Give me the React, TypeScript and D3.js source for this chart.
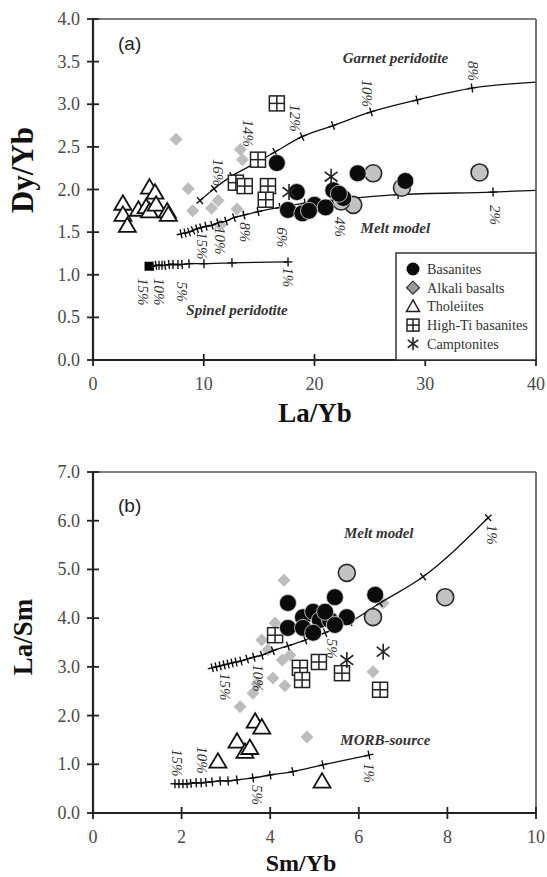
import React from "react";
import * as d3 from "d3";

// ---------- Panel (a): La/Yb vs Dy/Yb ----------
const xTicksA = [0, 10, 20, 30, 40];
const yTicksA = [0, 0.5, 1.0, 1.5, 2.0, 2.5, 3.0, 3.5, 4.0];

const garnetModel: [number, number][] = [
  [9.66, 1.87], [10.93, 2.01], [12.55, 2.16], [14.54, 2.3], [16.43, 2.44],
  [18.87, 2.62], [21.67, 2.75], [25.1, 2.91], [29.26, 3.05], [34.22, 3.19],
];
const garnetEnd: [number, number] = [40, 3.26];

const meltModelA: [number, number][] = [
  [7.95, 1.48], [8.31, 1.49], [8.67, 1.5], [9.03, 1.52], [9.39, 1.54], [9.75, 1.55],
  [10.2, 1.57], [10.74, 1.58], [11.29, 1.61], [12.01, 1.63], [12.73, 1.67], [13.63, 1.7],
  [14.9, 1.74], [16.88, 1.79], [19.14, 1.84], [22.03, 1.88], [27.54, 1.94], [36.12, 1.97],
];
const meltEndA: [number, number] = [40, 1.99];

const spinelModel: [number, number][] = [
  [5.06, 1.1], [5.42, 1.1], [5.69, 1.11], [5.96, 1.11], [6.23, 1.11], [6.5, 1.11],
  [6.86, 1.12], [7.22, 1.12], [7.67, 1.12], [8.04, 1.12], [8.67, 1.13], [10.02, 1.13],
  [12.55, 1.14], [17.61, 1.15],
];

const basanitesA: [number, number][] = [
  [16.6, 2.31], [18.4, 1.97], [17.6, 1.76], [18.9, 1.72], [20.0, 1.82], [21.0, 1.79],
  [21.7, 1.99], [22.6, 1.9], [23.9, 2.19], [28.2, 2.1], [19.5, 1.75], [22.2, 1.95],
];
const grayCirclesA: [number, number][] = [
  [25.3, 2.19], [34.9, 2.2], [27.9, 2.02], [23.5, 1.82], [22.4, 1.86],
];
const alkaliA: [number, number][] = [
  [7.5, 2.59], [8.6, 2.01], [9.0, 1.75], [10.7, 1.78], [11.3, 1.87], [13.3, 2.47],
  [13.5, 2.35], [13.0, 1.77], [11.5, 1.58],
];
const tholeiitesA: [number, number][] = [
  [2.7, 1.83], [2.7, 1.7], [3.1, 1.57], [5.1, 2.02], [5.6, 1.96], [4.1, 1.76],
  [4.8, 1.79], [5.1, 1.74], [5.7, 1.82], [6.7, 1.74], [6.8, 1.7],
];
const highTiA: [number, number][] = [
  [16.6, 3.01], [14.9, 2.35], [12.9, 2.08], [13.7, 2.04], [15.8, 2.04], [15.6, 1.88],
];
const camptonitesA: [number, number][] = [[21.5, 2.15], [17.7, 1.97]];

const pctLabelsA: [string, number, number][] = [
  ["16%", 11.29, 2.2], ["14%", 14.0, 2.66], ["12%", 18.24, 2.84], ["10%", 24.74, 3.13], ["8%", 34.31, 3.39],
  ["15%", 9.84, 1.34], ["10%", 11.47, 1.4], ["8%", 13.72, 1.5], ["6%", 17.07, 1.44], ["4%", 22.3, 1.56], ["2%", 36.3, 1.7],
  ["15%", 4.51, 0.8], ["10%", 5.96, 0.8], ["5%", 8.04, 0.8], ["1%", 17.6, 0.97],
];

// ---------- Panel (b): Sm/Yb vs La/Sm ----------
const xTicksB = [0, 2, 4, 6, 8, 10];
const yTicksB = [0, 1, 2, 3, 4, 5, 6, 7];

const meltModelB: [number, number][] = [
  [2.69, 2.98], [2.78, 3.0], [2.87, 3.02], [2.96, 3.04], [3.05, 3.06], [3.14, 3.08],
  [3.23, 3.1], [3.34, 3.12], [3.48, 3.16], [3.63, 3.2], [3.81, 3.24], [4.06, 3.33],
  [4.4, 3.43], [4.79, 3.55], [5.24, 3.7], [5.8, 3.92], [6.48, 4.31], [7.45, 4.85], [8.92, 6.06],
];
const morbModel: [number, number][] = [
  [1.85, 0.6], [1.94, 0.6], [2.03, 0.6], [2.12, 0.6], [2.21, 0.61], [2.33, 0.62],
  [2.44, 0.62], [2.55, 0.63], [2.69, 0.64], [2.87, 0.66], [3.05, 0.66], [3.25, 0.68],
  [3.61, 0.72], [4.0, 0.78], [4.51, 0.85], [5.19, 0.99], [6.23, 1.19],
];

const basanitesB: [number, number][] = [
  [4.4, 4.31], [5.46, 4.43], [6.37, 4.48], [4.74, 4.02], [4.97, 4.13], [5.12, 3.96],
  [5.35, 3.96], [5.73, 4.02], [4.4, 3.8], [4.74, 3.8], [4.97, 3.7], [5.24, 4.13], [5.46, 3.86],
];
const grayCirclesB: [number, number][] = [[5.73, 4.93], [7.95, 4.43], [6.32, 4.02]];
const alkaliB: [number, number][] = [
  [4.31, 4.78], [4.11, 3.9], [3.81, 3.55], [3.95, 3.35], [4.45, 3.24], [4.27, 3.14],
  [4.06, 2.77], [4.33, 2.61], [3.61, 2.46], [3.7, 2.65], [3.32, 2.18], [6.32, 2.9],
  [4.83, 1.56], [6.55, 4.31],
];
const tholeiitesB: [number, number][] = [
  [2.82, 1.05], [3.25, 1.46], [3.43, 1.25], [3.54, 1.33], [3.66, 1.87], [3.81, 1.75], [5.17, 0.64],
];
const highTiB: [number, number][] = [
  [4.11, 3.65], [4.67, 2.98], [4.72, 2.73], [5.1, 3.1], [5.62, 2.87], [6.48, 2.53],
];
const camptonitesB: [number, number][] = [[5.73, 3.14], [6.55, 3.31]];

const pctLabelsB: [string, number, number][] = [
  ["15%", 2.98, 2.59], ["10%", 3.72, 2.77], ["5%", 5.4, 3.37], ["1%", 9.0, 5.71],
  ["15%", 1.9, 1.03], ["10%", 2.46, 1.09], ["5%", 3.7, 0.37], ["1%", 6.23, 0.82],
];

const legendItems = ["Basanites", "Alkali basalts", "Tholeiites", "High-Ti basanites", "Camptonites"];

// ---------- styles ----------
const SERIF = "'Liberation Serif', 'Times New Roman', serif";
const SANS = "'Liberation Sans', Arial, sans-serif";
const DIAMOND_FILL = "#bdbdbd";
const GRAY_FILL = "#c2c2c2";

type Scale = d3.ScaleLinear<number, number>;

function Circle({ x, y, r = 8.5, gray = false }: { x: number; y: number; r?: number; gray?: boolean }) {
  return gray ? (
    <circle cx={x} cy={y} r={r} fill={GRAY_FILL} stroke="#2a2a2a" strokeWidth={1.6} />
  ) : (
    <circle cx={x} cy={y} r={r} fill="#0b0b0b" stroke="#e0e0e0" strokeWidth={0.8} />
  );
}
function Diamond({ x, y, s = 6.5 }: { x: number; y: number; s?: number }) {
  return <path d={`M${x},${y - s}L${x + s},${y}L${x},${y + s}L${x - s},${y}Z`} fill={DIAMOND_FILL} />;
}
function Triangle({ x, y, s = 8.5 }: { x: number; y: number; s?: number }) {
  const h = s * 1.7;
  return (
    <path
      d={`M${x},${y - h * 0.6}L${x + s},${y + h * 0.4}L${x - s},${y + h * 0.4}Z`}
      fill="#fff"
      stroke="#111"
      strokeWidth={1.8}
    />
  );
}
function CrossSquare({ x, y, s = 7.5 }: { x: number; y: number; s?: number }) {
  return (
    <g stroke="#222" strokeWidth={1.5} fill="#fff">
      <rect x={x - s} y={y - s} width={2 * s} height={2 * s} />
      <line x1={x} x2={x} y1={y - s} y2={y + s} />
      <line x1={x - s} x2={x + s} y1={y} y2={y} />
    </g>
  );
}
function Asterisk({ x, y, s = 8 }: { x: number; y: number; s?: number }) {
  const dx = s * 0.8, dy = s * 0.6;
  return (
    <g stroke="#222" strokeWidth={1.6}>
      <line x1={x} x2={x} y1={y - s} y2={y + s} />
      <line x1={x - dx} x2={x + dx} y1={y - dy} y2={y + dy} />
      <line x1={x - dx} x2={x + dx} y1={y + dy} y2={y - dy} />
    </g>
  );
}

function ModelLine({ pts, end, x, y, startSquare = false }: { pts: [number, number][]; end?: [number, number]; x: Scale; y: Scale; startSquare?: boolean }) {
  const all = end ? [...pts, end] : pts;
  const line = d3.line<[number, number]>().x((d) => x(d[0])).y((d) => y(d[1])).curve(d3.curveMonotoneX);
  const px = all.map((d) => [x(d[0]), y(d[1])]);
  return (
    <g>
      <path d={line(all) || ""} fill="none" stroke="#111" strokeWidth={1.3} />
      {pts.map((d, i) => {
        const a = px[Math.max(0, i - 1)];
        const b = px[Math.min(px.length - 1, i + 1)];
        const ang = (Math.atan2(b[1] - a[1], b[0] - a[0]) * 180) / Math.PI;
        const cx = x(d[0]), cy = y(d[1]);
        if (startSquare && i === 0) {
          return <rect key={i} x={cx - 4.5} y={cy - 4.5} width={9} height={9} fill="#000" />;
        }
        return (
          <g key={i} transform={`translate(${cx},${cy}) rotate(${ang})`} stroke="#111" strokeWidth={1.4}>
            <line x1={-4.5} x2={4.5} y1={0} y2={0} />
            <line x1={0} x2={0} y1={-4.5} y2={4.5} />
          </g>
        );
      })}
    </g>
  );
}

function PctLabels({ labels, x, y }: { labels: [string, number, number][]; x: Scale; y: Scale }) {
  return (
    <g fontFamily={SERIF} fontStyle="italic" fontSize={15} fill="#333">
      {labels.map(([t, a, b], i) => (
        <text key={i} transform={`translate(${x(a)},${y(b)}) rotate(90)`} textAnchor="middle" dominantBaseline="central">
          {t}
        </text>
      ))}
    </g>
  );
}

function Axes({ x, y, xTicks, yTicks, fmtY, fmtX }: { x: Scale; y: Scale; xTicks: number[]; yTicks: number[]; fmtY: (n: number) => string; fmtX: (n: number) => string }) {
  const [x0, x1] = x.range();
  const [y0, y1] = y.range();
  return (
    <g>
      <line x1={x0} x2={x1} y1={y1} y2={y1} stroke="#555" strokeWidth={1.6} />
      <line x1={x1} x2={x1} y1={y1} y2={y0} stroke="#555" strokeWidth={1.6} />
      <line x1={x0} x2={x1} y1={y0} y2={y0} stroke="#222" strokeWidth={2.2} />
      <line x1={x0} x2={x0} y1={y0} y2={y1} stroke="#222" strokeWidth={2.2} />
      {yTicks.map((t) => (
        <g key={"y" + t}>
          <line x1={x0 - 6} x2={x0 + 6} y1={y(t)} y2={y(t)} stroke="#222" strokeWidth={1.8} />
          <text x={x0 - 13} y={y(t)} textAnchor="end" dominantBaseline="central" fontFamily={SERIF} fontSize={18} fill="#4a4a4a">
            {fmtY(t)}
          </text>
        </g>
      ))}
      {xTicks.map((t) => (
        <g key={"x" + t}>
          <line x1={x(t)} x2={x(t)} y1={y0 - 6} y2={y0 + 6} stroke="#222" strokeWidth={1.8} />
          <text x={x(t)} y={y0 + 30} textAnchor="middle" fontFamily={SERIF} fontSize={18} fill="#4a4a4a">
            {fmtX(t)}
          </text>
        </g>
      ))}
    </g>
  );
}

function Points({ x, y, tholeiites, highTi, gray, basanites, camptonites }: any) {
  return (
    <g>
      {tholeiites.map((d: number[], i: number) => <Triangle key={"t" + i} x={x(d[0])} y={y(d[1])} />)}
      {highTi.map((d: number[], i: number) => <CrossSquare key={"h" + i} x={x(d[0])} y={y(d[1])} />)}
      {gray.map((d: number[], i: number) => <Circle key={"g" + i} x={x(d[0])} y={y(d[1])} gray />)}
      {basanites.map((d: number[], i: number) => <Circle key={"b" + i} x={x(d[0])} y={y(d[1])} />)}
      {camptonites.map((d: number[], i: number) => <Asterisk key={"c" + i} x={x(d[0])} y={y(d[1])} />)}
    </g>
  );
}

export default function App() {
  const xA = d3.scaleLinear().domain([0, 40]).range([93, 536]);
  const yA = d3.scaleLinear().domain([0, 4]).range([360, 19]);
  const xB = d3.scaleLinear().domain([0, 10]).range([93, 536]);
  const yB = d3.scaleLinear().domain([0, 7]).range([813, 472]);
  const f1 = d3.format(".1f");
  const f0 = d3.format("d");

  const modelLabel = { fontFamily: SERIF, fontStyle: "italic", fontWeight: "bold", fontSize: 15, fill: "#333" } as const;

  return (
    <svg width={547} height={877} style={{ position: "absolute", left: 0, top: 0, background: "#fff" }}>
      {/* ----- Panel (a) ----- */}
      {alkaliA.map((d, i) => <Diamond key={"da" + i} x={xA(d[0])} y={yA(d[1])} />)}
      <ModelLine pts={garnetModel} end={garnetEnd} x={xA} y={yA} />
      <ModelLine pts={meltModelA} end={meltEndA} x={xA} y={yA} />
      <ModelLine pts={spinelModel} x={xA} y={yA} startSquare />
      <Points x={xA} y={yA} tholeiites={tholeiitesA} highTi={highTiA} gray={grayCirclesA} basanites={basanitesA} camptonites={camptonitesA} />
      <PctLabels labels={pctLabelsA} x={xA} y={yA} />
      <text x={xA(27.3)} y={yA(3.48)} textAnchor="middle" {...modelLabel}>Garnet peridotite</text>
      <text x={xA(27.3)} y={yA(1.49)} textAnchor="middle" {...modelLabel}>Melt model</text>
      <text x={xA(13.0)} y={yA(0.53)} textAnchor="middle" {...modelLabel}>Spinel peridotite</text>
      <text x={118} y={50} fontFamily={SANS} fontSize={19} fill="#222">(a)</text>
      <Axes x={xA} y={yA} xTicks={xTicksA} yTicks={yTicksA} fmtY={f1} fmtX={f0} />

      {/* legend */}
      <g>
        <rect x={396} y={253} width={140} height={107} fill="#fff" stroke="#333" strokeWidth={1.5} />
        {legendItems.map((t, i) => {
          const cy = 269 + i * 18.7;
          const cx = 413;
          return (
            <g key={t}>
              {i === 0 && <circle cx={cx} cy={cy} r={6.5} fill="#0b0b0b" />}
              {i === 1 && <path d={`M${cx},${cy - 6.5}L${cx + 6.5},${cy}L${cx},${cy + 6.5}L${cx - 6.5},${cy}Z`} fill="#999" stroke="#333" strokeWidth={1.2} />}
              {i === 2 && <path d={`M${cx},${cy - 6.5}L${cx + 6.5},${cy + 5}L${cx - 6.5},${cy + 5}Z`} fill="#fff" stroke="#222" strokeWidth={1.5} />}
              {i === 3 && <CrossSquare x={cx} y={cy} s={6} />}
              {i === 4 && <Asterisk x={cx} y={cy} s={6.5} />}
              <text x={427} y={cy} dominantBaseline="central" fontFamily={SERIF} fontSize={14.2} fill="#333">{t}</text>
            </g>
          );
        })}
      </g>

      {/* axis titles (a) */}
      <text transform="translate(33,170) rotate(-90)" textAnchor="middle" fontFamily={SERIF} fontWeight="bold" fontSize={31} fill="#111">Dy/Yb</text>
      <text x={315} y={422} textAnchor="middle" fontFamily={SERIF} fontWeight="bold" fontSize={27} fill="#111">La/Yb</text>

      {/* ----- Panel (b) ----- */}
      {alkaliB.map((d, i) => <Diamond key={"db" + i} x={xB(d[0])} y={yB(d[1])} />)}
      <ModelLine pts={meltModelB} x={xB} y={yB} />
      <ModelLine pts={morbModel} x={xB} y={yB} />
      <Points x={xB} y={yB} tholeiites={tholeiitesB} highTi={highTiB} gray={grayCirclesB} basanites={basanitesB} camptonites={camptonitesB} />
      <PctLabels labels={pctLabelsB} x={xB} y={yB} />
      <text x={xB(6.45)} y={yB(5.64)} textAnchor="middle" {...modelLabel}>Melt model</text>
      <text x={xB(6.6)} y={yB(1.4)} textAnchor="middle" {...modelLabel}>MORB-source</text>
      <text x={118} y={512} fontFamily={SANS} fontSize={19} fill="#222">(b)</text>
      <Axes x={xB} y={yB} xTicks={xTicksB} yTicks={yTicksB} fmtY={f1} fmtX={f0} />

      <text transform="translate(32,637) rotate(-90)" textAnchor="middle" fontFamily={SERIF} fontWeight="bold" fontSize={27} fill="#111">La/Sm</text>
      <text x={301} y={871} textAnchor="middle" fontFamily={SERIF} fontWeight="bold" fontSize={24} fill="#111">Sm/Yb</text>
    </svg>
  );
}
